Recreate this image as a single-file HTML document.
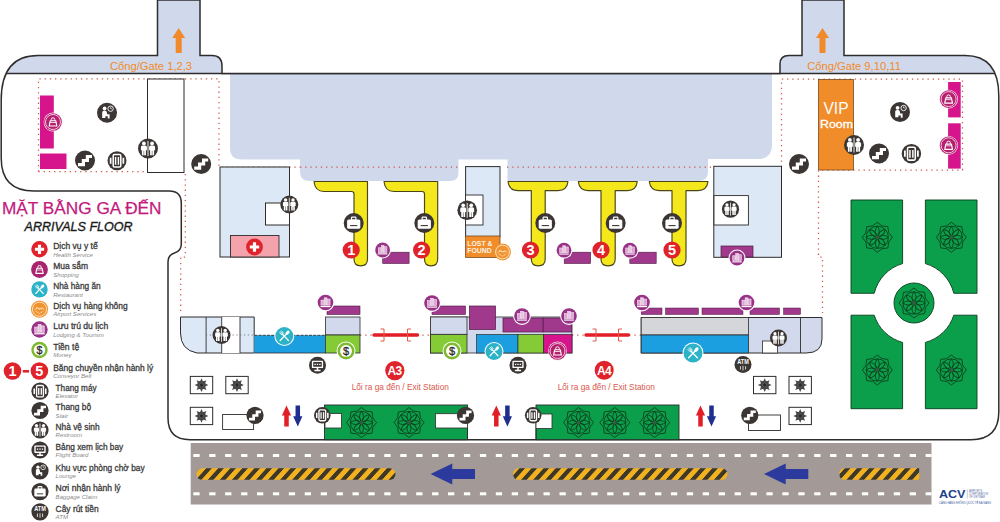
<!DOCTYPE html>
<html><head><meta charset="utf-8"><title>Arrivals Floor</title>
<style>html,body{margin:0;padding:0;background:#fff;}svg{display:block;font-family:"Liberation Sans",sans-serif;}</style>
</head><body>
<svg width="1000" height="522" viewBox="0 0 1000 522">
<rect width="1000" height="522" fill="#fff"/>
<defs><clipPath id="bclip"><path d="M1.2 100 Q1.2 55.5 38 55.5 H157.5 V0 H200 V55.5 H212 Q222 55.5 222 66 V73.5 H780 V64 Q780 55.5 789 55.5 H802 V0 H844 V55.5 H965 Q998.8 55.5 998.8 96 V412 Q998.8 439.7 971 439.7 H190 Q168 439.7 168 418 V262 Q168 255 174.5 253 Q181.3 251 181.3 244 V203 Q181.3 191 169 191 H34 Q1.2 191 1.2 158 Z"/></clipPath><clipPath id="topclip"><rect x="0" y="-2" width="1000" height="75.5"/></clipPath></defs>
<path d="M1.2 100 Q1.2 55.5 38 55.5 H157.5 V0 H200 V55.5 H212 Q222 55.5 222 66 V73.5 H780 V64 Q780 55.5 789 55.5 H802 V0 H844 V55.5 H965 Q998.8 55.5 998.8 96 V412 Q998.8 439.7 971 439.7 H190 Q168 439.7 168 418 V262 Q168 255 174.5 253 Q181.3 251 181.3 244 V203 Q181.3 191 169 191 H34 Q1.2 191 1.2 158 Z" fill="#fff"/>
<g clip-path="url(#topclip)"><path d="M1.2 100 Q1.2 55.5 38 55.5 H157.5 V0 H200 V55.5 H212 Q222 55.5 222 66 V73.5 H780 V64 Q780 55.5 789 55.5 H802 V0 H844 V55.5 H965 Q998.8 55.5 998.8 96 V412 Q998.8 439.7 971 439.7 H190 Q168 439.7 168 418 V262 Q168 255 174.5 253 Q181.3 251 181.3 244 V203 Q181.3 191 169 191 H34 Q1.2 191 1.2 158 Z" fill="#d0d9ec"/></g>
<path d="M230 74 H772 V145 Q772 159 758 159 H708 V172 Q708 181 698 181 H507.5 V159.5 H458.5 V173 Q458.5 181 450 181 H310 Q300 181 300 172 V159.5 H242 Q230 159.5 230 148 Z" fill="#d0d9ec"/>
<g clip-path="url(#bclip)"><path d="M0 73.5H1000" stroke="#2e2c2c" stroke-width="1.3"/></g>
<path d="M1.2 100 Q1.2 55.5 38 55.5 H157.5 V0 H200 V55.5 H212 Q222 55.5 222 66 V73.5 H780 V64 Q780 55.5 789 55.5 H802 V0 H844 V55.5 H965 Q998.8 55.5 998.8 96 V412 Q998.8 439.7 971 439.7 H190 Q168 439.7 168 418 V262 Q168 255 174.5 253 Q181.3 251 181.3 244 V203 Q181.3 191 169 191 H34 Q1.2 191 1.2 158 Z" fill="none" stroke="#2e2c2c" stroke-width="1.5"/>
<path d="M38.5 171.5 V78.8 H219 V167 H300" fill="none" stroke="#cf5a4c" stroke-width="1.25" stroke-dasharray="1.3 3.9"/>
<path d="M38.5 171.5 H147 M185.3 174 V257 H180.7 V314" fill="none" stroke="#cf5a4c" stroke-width="1.25" stroke-dasharray="1.3 3.9"/>
<path d="M300 167 H458 M507 167 H714" fill="none" stroke="#cf5a4c" stroke-width="1.25" stroke-dasharray="1.3 3.9"/>
<path d="M781.5 167 V79 H962.5 V170 H818.5 V257 H822.5 V313" fill="none" stroke="#cf5a4c" stroke-width="1.25" stroke-dasharray="1.3 3.9"/>
<path d="M360 335 H430 M572 335 H641" fill="none" stroke="#cf5a4c" stroke-width="1.25" stroke-dasharray="1.3 3.9"/>
<rect x="147.5" y="79" width="36.5" height="93.5" fill="#fff" stroke="#2e2c2c" stroke-width="1"/>
<rect x="40" y="95.5" width="13.8" height="53" fill="#d6158c"/>
<rect x="40" y="153.5" width="26.5" height="15.5" fill="#d6158c"/>
<rect x="948.1" y="82" width="12.6" height="35.4" fill="#d6158c"/>
<rect x="948.1" y="123.3" width="12.6" height="45.3" fill="#d6158c"/>
<rect x="818.5" y="79.5" width="35" height="90.5" fill="#f08c2a" stroke="#7a4a1a" stroke-width="0.8"/>
<text x="836" y="113.8" font-size="15.6" fill="#fff" text-anchor="middle">VIP</text>
<text x="836.5" y="128" font-size="10.4" fill="#fff" stroke="#fff" stroke-width="0.3" text-anchor="middle" textLength="33" lengthAdjust="spacingAndGlyphs">Room</text>
<rect x="220" y="167" width="69.5" height="90" fill="#dce8f6" stroke="#2e2c2c" stroke-width="1"/>
<rect x="265.5" y="203" width="24" height="22" fill="#fff" stroke="#2e2c2c" stroke-width="1"/>
<rect x="230.5" y="235.5" width="48.5" height="21.5" fill="#f4a3ad" stroke="#2e2c2c" stroke-width="0.9"/>
<rect x="465.6" y="166.6" width="34.4" height="70" fill="#dce8f6" stroke="#2e2c2c" stroke-width="1"/>
<rect x="465.6" y="195" width="17.4" height="30" fill="#fff" stroke="#2e2c2c" stroke-width="0.9"/>
<rect x="465.6" y="236" width="34.4" height="21.4" fill="#f08c2a" stroke="#7a4a1a" stroke-width="0.8"/>
<text x="467.3" y="246" font-size="7" font-weight="bold" fill="#fdf3e4" textLength="25.2" lengthAdjust="spacingAndGlyphs">LOST &amp;</text>
<text x="467.3" y="253.3" font-size="7" font-weight="bold" fill="#fdf3e4" textLength="24.5" lengthAdjust="spacingAndGlyphs">FOUND</text>
<rect x="713.8" y="166.3" width="67.7" height="91" fill="#dce8f6" stroke="#2e2c2c" stroke-width="1"/>
<rect x="714" y="195.6" width="34.4" height="29.4" fill="#fff" stroke="#2e2c2c" stroke-width="0.9"/>
<rect x="721" y="246" width="32" height="11" fill="#a0398b" stroke="#4a1a42" stroke-width="0.7"/>
<path d="M314 181.5 H367.5 V259 Q367.5 265.8 360.75 265.8 Q354 265.8 354 259 V194 Q354 191.5 351.5 191.5 H324 Q315 191.5 314 181.5 Z" fill="#f4e71b" stroke="#4a4516" stroke-width="1.15" stroke-linejoin="round"/>
<path d="M384 181.5 H437.7 V259 Q437.7 265.8 431.1 265.8 Q424.5 265.8 424.5 259 V194 Q424.5 191.5 422.0 191.5 H394 Q385 191.5 384 181.5 Z" fill="#f4e71b" stroke="#4a4516" stroke-width="1.15" stroke-linejoin="round"/>
<path d="M508 181.5 H568 Q567 190.6 558 190.6 H545.2 V259 Q545.2 265.8 538.25 265.8 Q531.3 265.8 531.3 259 V190.6 H518 Q509 190.6 508 181.5 Z" fill="#f4e71b" stroke="#4a4516" stroke-width="1.15" stroke-linejoin="round"/>
<path d="M578.3 181.5 H637.3 Q636.3 190.6 627.3 190.6 H615.2 V259 Q615.2 265.8 608.1 265.8 Q601 265.8 601 259 V190.6 H588.3 Q579.3 190.6 578.3 181.5 Z" fill="#f4e71b" stroke="#4a4516" stroke-width="1.15" stroke-linejoin="round"/>
<path d="M649.3 181.5 H708 Q707 190.6 698 190.6 H686 V259 Q686 265.8 679.0 265.8 Q672 265.8 672 259 V190.6 H659.3 Q650.3 190.6 649.3 181.5 Z" fill="#f4e71b" stroke="#4a4516" stroke-width="1.15" stroke-linejoin="round"/>
<rect x="382.7" y="252.2" width="26.4" height="11.3" fill="#a0398b" stroke="#4a1a42" stroke-width="0.6"/>
<rect x="564.2" y="252.2" width="26.4" height="11.3" fill="#a0398b" stroke="#4a1a42" stroke-width="0.6"/>
<rect x="629.8" y="252.2" width="26.4" height="11.3" fill="#a0398b" stroke="#4a1a42" stroke-width="0.6"/>
<path d="M180.5 317 H254.2 V353 H197 Q180.5 350 180.5 333 Z" fill="#dce8f6" stroke="#2e2c2c" stroke-width="1"/>
<rect x="221.7" y="317" width="18.3" height="36" fill="#fff"/>
<path d="M206.1 317V353M221.7 317V353M240 317V353" stroke="#2e2c2c" stroke-width="0.9"/>
<path d="M206 335 H254" fill="none" stroke="#777" stroke-width="0.9" stroke-dasharray="1.2 2.6"/>
<rect x="254.4" y="335.3" width="71.1" height="17.7" fill="#1c9fe0"/><path d="M254.4 353H325.5" stroke="#2e2c2c" stroke-width="0.8"/><path d="M254.4 335.3H325.5" stroke="#2e2c2c" stroke-width="0.9" stroke-dasharray="3 1.2"/>
<rect x="325.5" y="317" width="34.5" height="18" fill="#d2d9ec" stroke="#2e2c2c" stroke-width="0.8"/>
<rect x="325.5" y="335" width="34.5" height="18" fill="#84cb35" stroke="#2e2c2c" stroke-width="0.8"/>
<rect x="327" y="306" width="33" height="8.5" fill="#a0398b" stroke="#4a1a42" stroke-width="0.6"/>
<rect x="430.5" y="317" width="141.5" height="36" fill="#d2d9ec" stroke="#2e2c2c" stroke-width="0.8"/>
<rect x="430.5" y="334.3" width="36.5" height="18.7" fill="#84cb35" stroke="#2e2c2c" stroke-width="0.8"/>
<rect x="430.5" y="317" width="36.5" height="17.3" fill="#d2d9ec" stroke="#2e2c2c" stroke-width="0.8"/>
<rect x="432" y="306" width="33.5" height="8.5" fill="#a0398b" stroke="#4a1a42" stroke-width="0.6"/>
<rect x="469.5" y="306" width="26" height="23.5" fill="#a0398b" stroke="#4a1a42" stroke-width="0.7"/>
<rect x="503" y="318" width="40.2" height="14" fill="#a0398b" stroke="#4a1a42" stroke-width="0.7"/>
<rect x="543.2" y="318" width="28.5" height="14" fill="#a0398b" stroke="#4a1a42" stroke-width="0.7"/>
<rect x="476.5" y="334.5" width="41.5" height="18.5" fill="#1c9fe0" stroke="#2e2c2c" stroke-width="0.7"/>
<rect x="518" y="334.5" width="25.5" height="18.5" fill="#84cb35" stroke="#2e2c2c" stroke-width="0.7"/>
<rect x="543.5" y="334.5" width="28.5" height="18.5" fill="#d6158c" stroke="#2e2c2c" stroke-width="0.7"/>
<path d="M641.2 317.5 H822 V339 Q822 353 806 353 H641.2 Z" fill="#d2d9ec" stroke="#2e2c2c" stroke-width="1"/>
<rect x="641.2" y="317.5" width="107.3" height="17.5" fill="#d5d6da" stroke="#2e2c2c" stroke-width="0.8"/>
<rect x="641.2" y="335" width="107.3" height="18" fill="#1c9fe0" stroke="#2e2c2c" stroke-width="0.8"/>
<path d="M800.5 317.5V353" stroke="#2e2c2c" stroke-width="0.9"/>
<rect x="762.5" y="341" width="15" height="12" fill="#fff" stroke="#2e2c2c" stroke-width="0.8"/>
<rect x="641.2" y="308" width="20.799999999999955" height="6.5" fill="#a0398b" stroke="#4a1a42" stroke-width="0.5"/>
<rect x="665.5" y="308" width="33.0" height="6.5" fill="#a0398b" stroke="#4a1a42" stroke-width="0.5"/>
<rect x="702" y="308" width="41" height="6.5" fill="#a0398b" stroke="#4a1a42" stroke-width="0.5"/>
<rect x="750" y="308" width="29.5" height="6.5" fill="#a0398b" stroke="#4a1a42" stroke-width="0.5"/>
<rect x="783.5" y="308" width="17.0" height="6.5" fill="#a0398b" stroke="#4a1a42" stroke-width="0.5"/>
<path d="M374 335H417.5" stroke="#e21e26" stroke-width="3.4" stroke-linecap="round"/><path d="M380.5 329H384V341H380.5M411.0 329H407.5V341H411.0" fill="none" stroke="#e2574a" stroke-width="1"/>
<path d="M586 335H628.5" stroke="#e21e26" stroke-width="3.4" stroke-linecap="round"/><path d="M592.5 329H596V341H592.5M622.0 329H618.5V341H622.0" fill="none" stroke="#e2574a" stroke-width="1"/>
<circle cx="394.8" cy="370.6" r="9.6" fill="#e0222a"/><text x="394.5" y="374.9" font-size="12" font-weight="bold" fill="#fff" text-anchor="middle" letter-spacing="-0.7">A3</text>
<circle cx="604.2" cy="370.2" r="9.5" fill="#e0222a"/><text x="603.9" y="374.5" font-size="12" font-weight="bold" fill="#fff" text-anchor="middle" letter-spacing="-0.7">A4</text>
<text x="400.3" y="390" font-size="8.3" fill="#d9584c" text-anchor="middle">Lối ra ga đến / Exit Station</text>
<text x="606.3" y="389.7" font-size="8.3" fill="#d9584c" text-anchor="middle">Lối ra ga đến / Exit Station</text>
<rect x="190.3" y="376.4" width="22.4" height="17.3" fill="#fff" stroke="#2e2c2c" stroke-width="1"/><polygon points="201.50,378.15 202.99,381.45 206.38,380.17 205.10,383.56 208.40,385.05 205.10,386.54 206.38,389.93 202.99,388.65 201.50,391.95 200.01,388.65 196.62,389.93 197.90,386.54 194.60,385.05 197.90,383.56 196.62,380.17 200.01,381.45" fill="#4a4a4a"/><circle cx="201.5" cy="385.04999999999995" r="4" fill="#444"/><circle cx="201.5" cy="385.04999999999995" r="2.1" fill="#2a2a2a" stroke="#777" stroke-width="0.5"/>
<rect x="225.8" y="376.4" width="22.4" height="17.3" fill="#fff" stroke="#2e2c2c" stroke-width="1"/><polygon points="237.00,378.15 238.49,381.45 241.88,380.17 240.60,383.56 243.90,385.05 240.60,386.54 241.88,389.93 238.49,388.65 237.00,391.95 235.51,388.65 232.12,389.93 233.40,386.54 230.10,385.05 233.40,383.56 232.12,380.17 235.51,381.45" fill="#4a4a4a"/><circle cx="237.0" cy="385.04999999999995" r="4" fill="#444"/><circle cx="237.0" cy="385.04999999999995" r="2.1" fill="#2a2a2a" stroke="#777" stroke-width="0.5"/>
<rect x="190.3" y="407.3" width="22.4" height="17.3" fill="#fff" stroke="#2e2c2c" stroke-width="1"/><polygon points="201.50,409.05 202.99,412.35 206.38,411.07 205.10,414.46 208.40,415.95 205.10,417.44 206.38,420.83 202.99,419.55 201.50,422.85 200.01,419.55 196.62,420.83 197.90,417.44 194.60,415.95 197.90,414.46 196.62,411.07 200.01,412.35" fill="#4a4a4a"/><circle cx="201.5" cy="415.95" r="4" fill="#444"/><circle cx="201.5" cy="415.95" r="2.1" fill="#2a2a2a" stroke="#777" stroke-width="0.5"/>
<rect x="753.5" y="376.4" width="22.4" height="17.3" fill="#fff" stroke="#2e2c2c" stroke-width="1"/><polygon points="764.70,378.15 766.19,381.45 769.58,380.17 768.30,383.56 771.60,385.05 768.30,386.54 769.58,389.93 766.19,388.65 764.70,391.95 763.21,388.65 759.82,389.93 761.10,386.54 757.80,385.05 761.10,383.56 759.82,380.17 763.21,381.45" fill="#4a4a4a"/><circle cx="764.7" cy="385.04999999999995" r="4" fill="#444"/><circle cx="764.7" cy="385.04999999999995" r="2.1" fill="#2a2a2a" stroke="#777" stroke-width="0.5"/>
<rect x="789" y="376.4" width="22.4" height="17.3" fill="#fff" stroke="#2e2c2c" stroke-width="1"/><polygon points="800.20,378.15 801.69,381.45 805.08,380.17 803.80,383.56 807.10,385.05 803.80,386.54 805.08,389.93 801.69,388.65 800.20,391.95 798.71,388.65 795.32,389.93 796.60,386.54 793.30,385.05 796.60,383.56 795.32,380.17 798.71,381.45" fill="#4a4a4a"/><circle cx="800.2" cy="385.04999999999995" r="4" fill="#444"/><circle cx="800.2" cy="385.04999999999995" r="2.1" fill="#2a2a2a" stroke="#777" stroke-width="0.5"/>
<rect x="789" y="407.3" width="22.4" height="17.3" fill="#fff" stroke="#2e2c2c" stroke-width="1"/><polygon points="800.20,409.05 801.69,412.35 805.08,411.07 803.80,414.46 807.10,415.95 803.80,417.44 805.08,420.83 801.69,419.55 800.20,422.85 798.71,419.55 795.32,420.83 796.60,417.44 793.30,415.95 796.60,414.46 795.32,411.07 798.71,412.35" fill="#4a4a4a"/><circle cx="800.2" cy="415.95" r="4" fill="#444"/><circle cx="800.2" cy="415.95" r="2.1" fill="#2a2a2a" stroke="#777" stroke-width="0.5"/>
<rect x="222.6" y="414.5" width="31" height="15" fill="#fff" stroke="#2e2c2c" stroke-width="0.9"/>
<rect x="748.5" y="415" width="32" height="15.5" fill="#fff" stroke="#2e2c2c" stroke-width="0.9"/>
<rect x="324.5" y="405" width="143" height="34.7" fill="#0c9f4b" stroke="#2e2c2c" stroke-width="0.9"/>
<rect x="325" y="413.5" width="16.4" height="14.5" fill="#fff" stroke="#2e2c2c" stroke-width="0.8"/>
<rect x="435.5" y="413.7" width="32" height="14.3" fill="#fff" stroke="#2e2c2c" stroke-width="0.8"/>
<rect x="536" y="405" width="143" height="34.7" fill="#0c9f4b" stroke="#2e2c2c" stroke-width="0.9"/>
<rect x="536" y="414" width="16" height="14.5" fill="#fff" stroke="#2e2c2c" stroke-width="0.8"/>
<g fill="none" stroke="#0c4420" stroke-width="0.95" stroke-linejoin="round"><path transform="rotate(0 361.5 422.5)" d="M361.5 422.5Q357.50 416.39 361.5 411.40Q365.50 416.39 361.5 422.5"/><path transform="rotate(45 361.5 422.5)" d="M361.5 422.5Q357.50 416.39 361.5 411.40Q365.50 416.39 361.5 422.5"/><path transform="rotate(90 361.5 422.5)" d="M361.5 422.5Q357.50 416.39 361.5 411.40Q365.50 416.39 361.5 422.5"/><path transform="rotate(135 361.5 422.5)" d="M361.5 422.5Q357.50 416.39 361.5 411.40Q365.50 416.39 361.5 422.5"/><path transform="rotate(180 361.5 422.5)" d="M361.5 422.5Q357.50 416.39 361.5 411.40Q365.50 416.39 361.5 422.5"/><path transform="rotate(225 361.5 422.5)" d="M361.5 422.5Q357.50 416.39 361.5 411.40Q365.50 416.39 361.5 422.5"/><path transform="rotate(270 361.5 422.5)" d="M361.5 422.5Q357.50 416.39 361.5 411.40Q365.50 416.39 361.5 422.5"/><path transform="rotate(315 361.5 422.5)" d="M361.5 422.5Q357.50 416.39 361.5 411.40Q365.50 416.39 361.5 422.5"/><polygon points="361.50,407.50 366.21,411.14 372.11,411.89 372.86,417.79 376.50,422.50 372.86,427.21 372.11,433.11 366.21,433.86 361.50,437.50 356.79,433.86 350.89,433.11 350.14,427.21 346.50,422.50 350.14,417.79 350.89,411.89 356.79,411.14"/><circle cx="361.5" cy="422.5" r="11.10"/><circle cx="361.5" cy="422.5" r="1.95" fill="#2f5f3f" stroke="none"/></g>
<g fill="none" stroke="#0c4420" stroke-width="0.95" stroke-linejoin="round"><path transform="rotate(0 409 422.5)" d="M409 422.5Q405.00 416.39 409 411.40Q413.00 416.39 409 422.5"/><path transform="rotate(45 409 422.5)" d="M409 422.5Q405.00 416.39 409 411.40Q413.00 416.39 409 422.5"/><path transform="rotate(90 409 422.5)" d="M409 422.5Q405.00 416.39 409 411.40Q413.00 416.39 409 422.5"/><path transform="rotate(135 409 422.5)" d="M409 422.5Q405.00 416.39 409 411.40Q413.00 416.39 409 422.5"/><path transform="rotate(180 409 422.5)" d="M409 422.5Q405.00 416.39 409 411.40Q413.00 416.39 409 422.5"/><path transform="rotate(225 409 422.5)" d="M409 422.5Q405.00 416.39 409 411.40Q413.00 416.39 409 422.5"/><path transform="rotate(270 409 422.5)" d="M409 422.5Q405.00 416.39 409 411.40Q413.00 416.39 409 422.5"/><path transform="rotate(315 409 422.5)" d="M409 422.5Q405.00 416.39 409 411.40Q413.00 416.39 409 422.5"/><polygon points="409.00,407.50 413.71,411.14 419.61,411.89 420.36,417.79 424.00,422.50 420.36,427.21 419.61,433.11 413.71,433.86 409.00,437.50 404.29,433.86 398.39,433.11 397.64,427.21 394.00,422.50 397.64,417.79 398.39,411.89 404.29,411.14"/><circle cx="409" cy="422.5" r="11.10"/><circle cx="409" cy="422.5" r="1.95" fill="#2f5f3f" stroke="none"/></g>
<g fill="none" stroke="#0c4420" stroke-width="0.95" stroke-linejoin="round"><path transform="rotate(0 578.5 422.5)" d="M578.5 422.5Q574.50 416.39 578.5 411.40Q582.50 416.39 578.5 422.5"/><path transform="rotate(45 578.5 422.5)" d="M578.5 422.5Q574.50 416.39 578.5 411.40Q582.50 416.39 578.5 422.5"/><path transform="rotate(90 578.5 422.5)" d="M578.5 422.5Q574.50 416.39 578.5 411.40Q582.50 416.39 578.5 422.5"/><path transform="rotate(135 578.5 422.5)" d="M578.5 422.5Q574.50 416.39 578.5 411.40Q582.50 416.39 578.5 422.5"/><path transform="rotate(180 578.5 422.5)" d="M578.5 422.5Q574.50 416.39 578.5 411.40Q582.50 416.39 578.5 422.5"/><path transform="rotate(225 578.5 422.5)" d="M578.5 422.5Q574.50 416.39 578.5 411.40Q582.50 416.39 578.5 422.5"/><path transform="rotate(270 578.5 422.5)" d="M578.5 422.5Q574.50 416.39 578.5 411.40Q582.50 416.39 578.5 422.5"/><path transform="rotate(315 578.5 422.5)" d="M578.5 422.5Q574.50 416.39 578.5 411.40Q582.50 416.39 578.5 422.5"/><polygon points="578.50,407.50 583.21,411.14 589.11,411.89 589.86,417.79 593.50,422.50 589.86,427.21 589.11,433.11 583.21,433.86 578.50,437.50 573.79,433.86 567.89,433.11 567.14,427.21 563.50,422.50 567.14,417.79 567.89,411.89 573.79,411.14"/><circle cx="578.5" cy="422.5" r="11.10"/><circle cx="578.5" cy="422.5" r="1.95" fill="#2f5f3f" stroke="none"/></g>
<g fill="none" stroke="#0c4420" stroke-width="0.95" stroke-linejoin="round"><path transform="rotate(0 614.8 422.5)" d="M614.8 422.5Q610.80 416.39 614.8 411.40Q618.80 416.39 614.8 422.5"/><path transform="rotate(45 614.8 422.5)" d="M614.8 422.5Q610.80 416.39 614.8 411.40Q618.80 416.39 614.8 422.5"/><path transform="rotate(90 614.8 422.5)" d="M614.8 422.5Q610.80 416.39 614.8 411.40Q618.80 416.39 614.8 422.5"/><path transform="rotate(135 614.8 422.5)" d="M614.8 422.5Q610.80 416.39 614.8 411.40Q618.80 416.39 614.8 422.5"/><path transform="rotate(180 614.8 422.5)" d="M614.8 422.5Q610.80 416.39 614.8 411.40Q618.80 416.39 614.8 422.5"/><path transform="rotate(225 614.8 422.5)" d="M614.8 422.5Q610.80 416.39 614.8 411.40Q618.80 416.39 614.8 422.5"/><path transform="rotate(270 614.8 422.5)" d="M614.8 422.5Q610.80 416.39 614.8 411.40Q618.80 416.39 614.8 422.5"/><path transform="rotate(315 614.8 422.5)" d="M614.8 422.5Q610.80 416.39 614.8 411.40Q618.80 416.39 614.8 422.5"/><polygon points="614.80,407.50 619.51,411.14 625.41,411.89 626.16,417.79 629.80,422.50 626.16,427.21 625.41,433.11 619.51,433.86 614.80,437.50 610.09,433.86 604.19,433.11 603.44,427.21 599.80,422.50 603.44,417.79 604.19,411.89 610.09,411.14"/><circle cx="614.8" cy="422.5" r="11.10"/><circle cx="614.8" cy="422.5" r="1.95" fill="#2f5f3f" stroke="none"/></g>
<g fill="none" stroke="#0c4420" stroke-width="0.95" stroke-linejoin="round"><path transform="rotate(0 654.6 422.5)" d="M654.6 422.5Q650.60 416.39 654.6 411.40Q658.60 416.39 654.6 422.5"/><path transform="rotate(45 654.6 422.5)" d="M654.6 422.5Q650.60 416.39 654.6 411.40Q658.60 416.39 654.6 422.5"/><path transform="rotate(90 654.6 422.5)" d="M654.6 422.5Q650.60 416.39 654.6 411.40Q658.60 416.39 654.6 422.5"/><path transform="rotate(135 654.6 422.5)" d="M654.6 422.5Q650.60 416.39 654.6 411.40Q658.60 416.39 654.6 422.5"/><path transform="rotate(180 654.6 422.5)" d="M654.6 422.5Q650.60 416.39 654.6 411.40Q658.60 416.39 654.6 422.5"/><path transform="rotate(225 654.6 422.5)" d="M654.6 422.5Q650.60 416.39 654.6 411.40Q658.60 416.39 654.6 422.5"/><path transform="rotate(270 654.6 422.5)" d="M654.6 422.5Q650.60 416.39 654.6 411.40Q658.60 416.39 654.6 422.5"/><path transform="rotate(315 654.6 422.5)" d="M654.6 422.5Q650.60 416.39 654.6 411.40Q658.60 416.39 654.6 422.5"/><polygon points="654.60,407.50 659.31,411.14 665.21,411.89 665.96,417.79 669.60,422.50 665.96,427.21 665.21,433.11 659.31,433.86 654.60,437.50 649.89,433.86 643.99,433.11 643.24,427.21 639.60,422.50 643.24,417.79 643.99,411.89 649.89,411.14"/><circle cx="654.6" cy="422.5" r="11.10"/><circle cx="654.6" cy="422.5" r="1.95" fill="#2f5f3f" stroke="none"/></g>
<path d="M467.5 428.5 V439.7 M536 428.5 V439.7" stroke="#2e2c2c" stroke-width="0.9"/>
<path d="M286.5 405.4l4.6 10.2h-2.35v10.900000000000023h-4.5v-10.900000000000023h-2.35z" fill="#e21e26"/><path d="M297.8 426.5l4.6 -10.2h-2.35v-10.900000000000023h-4.5v10.900000000000023h-2.35z" fill="#1f2f8f"/>
<path d="M496.3 405.4l4.6 10.2h-2.35v10.900000000000023h-4.5v-10.900000000000023h-2.35z" fill="#e21e26"/><path d="M507.4 426.5l4.6 -10.2h-2.35v-10.900000000000023h-4.5v10.900000000000023h-2.35z" fill="#1f2f8f"/>
<path d="M700.5 405.4l4.6 10.2h-2.35v10.900000000000023h-4.5v-10.900000000000023h-2.35z" fill="#e21e26"/><path d="M711.5 426.5l4.6 -10.2h-2.35v-10.900000000000023h-4.5v10.900000000000023h-2.35z" fill="#1f2f8f"/>
<path d="M851 200 H902.6 V263.6 A41 41 0 0 0 874.2 293.3 H851 Z" fill="#0c9f4b" stroke="#0a3d1c" stroke-width="0.9"/><path d="M977 200 H925.4 V263.6 A41 41 0 0 1 953.8 293.3 H977 Z" fill="#0c9f4b" stroke="#0a3d1c" stroke-width="0.9"/><path d="M851 408.7 H902.6 V342.4 A41 41 0 0 1 874.2 315.2 H851 Z" fill="#0c9f4b" stroke="#0a3d1c" stroke-width="0.9"/><path d="M977 408.7 H925.4 V342.4 A41 41 0 0 0 953.8 315.2 H977 Z" fill="#0c9f4b" stroke="#0a3d1c" stroke-width="0.9"/><circle cx="914" cy="303" r="20" fill="#0c9f4b" stroke="#0a3d1c" stroke-width="0.9"/>
<g fill="none" stroke="#0c4420" stroke-width="0.95" stroke-linejoin="round"><path transform="rotate(0 877.3 237.3)" d="M877.3 237.3Q873.30 231.20 877.3 226.20Q881.30 231.20 877.3 237.3"/><path transform="rotate(45 877.3 237.3)" d="M877.3 237.3Q873.30 231.20 877.3 226.20Q881.30 231.20 877.3 237.3"/><path transform="rotate(90 877.3 237.3)" d="M877.3 237.3Q873.30 231.20 877.3 226.20Q881.30 231.20 877.3 237.3"/><path transform="rotate(135 877.3 237.3)" d="M877.3 237.3Q873.30 231.20 877.3 226.20Q881.30 231.20 877.3 237.3"/><path transform="rotate(180 877.3 237.3)" d="M877.3 237.3Q873.30 231.20 877.3 226.20Q881.30 231.20 877.3 237.3"/><path transform="rotate(225 877.3 237.3)" d="M877.3 237.3Q873.30 231.20 877.3 226.20Q881.30 231.20 877.3 237.3"/><path transform="rotate(270 877.3 237.3)" d="M877.3 237.3Q873.30 231.20 877.3 226.20Q881.30 231.20 877.3 237.3"/><path transform="rotate(315 877.3 237.3)" d="M877.3 237.3Q873.30 231.20 877.3 226.20Q881.30 231.20 877.3 237.3"/><polygon points="877.30,222.30 882.01,225.94 887.91,226.69 888.66,232.59 892.30,237.30 888.66,242.01 887.91,247.91 882.01,248.66 877.30,252.30 872.59,248.66 866.69,247.91 865.94,242.01 862.30,237.30 865.94,232.59 866.69,226.69 872.59,225.94"/><circle cx="877.3" cy="237.3" r="11.10"/><circle cx="877.3" cy="237.3" r="1.95" fill="#2f5f3f" stroke="none"/></g>
<g fill="none" stroke="#0c4420" stroke-width="0.95" stroke-linejoin="round"><path transform="rotate(0 951.3 237.3)" d="M951.3 237.3Q947.30 231.20 951.3 226.20Q955.30 231.20 951.3 237.3"/><path transform="rotate(45 951.3 237.3)" d="M951.3 237.3Q947.30 231.20 951.3 226.20Q955.30 231.20 951.3 237.3"/><path transform="rotate(90 951.3 237.3)" d="M951.3 237.3Q947.30 231.20 951.3 226.20Q955.30 231.20 951.3 237.3"/><path transform="rotate(135 951.3 237.3)" d="M951.3 237.3Q947.30 231.20 951.3 226.20Q955.30 231.20 951.3 237.3"/><path transform="rotate(180 951.3 237.3)" d="M951.3 237.3Q947.30 231.20 951.3 226.20Q955.30 231.20 951.3 237.3"/><path transform="rotate(225 951.3 237.3)" d="M951.3 237.3Q947.30 231.20 951.3 226.20Q955.30 231.20 951.3 237.3"/><path transform="rotate(270 951.3 237.3)" d="M951.3 237.3Q947.30 231.20 951.3 226.20Q955.30 231.20 951.3 237.3"/><path transform="rotate(315 951.3 237.3)" d="M951.3 237.3Q947.30 231.20 951.3 226.20Q955.30 231.20 951.3 237.3"/><polygon points="951.30,222.30 956.01,225.94 961.91,226.69 962.66,232.59 966.30,237.30 962.66,242.01 961.91,247.91 956.01,248.66 951.30,252.30 946.59,248.66 940.69,247.91 939.94,242.01 936.30,237.30 939.94,232.59 940.69,226.69 946.59,225.94"/><circle cx="951.3" cy="237.3" r="11.10"/><circle cx="951.3" cy="237.3" r="1.95" fill="#2f5f3f" stroke="none"/></g>
<g fill="none" stroke="#0c4420" stroke-width="0.95" stroke-linejoin="round"><path transform="rotate(0 877.3 370)" d="M877.3 370Q873.30 363.89 877.3 358.90Q881.30 363.89 877.3 370"/><path transform="rotate(45 877.3 370)" d="M877.3 370Q873.30 363.89 877.3 358.90Q881.30 363.89 877.3 370"/><path transform="rotate(90 877.3 370)" d="M877.3 370Q873.30 363.89 877.3 358.90Q881.30 363.89 877.3 370"/><path transform="rotate(135 877.3 370)" d="M877.3 370Q873.30 363.89 877.3 358.90Q881.30 363.89 877.3 370"/><path transform="rotate(180 877.3 370)" d="M877.3 370Q873.30 363.89 877.3 358.90Q881.30 363.89 877.3 370"/><path transform="rotate(225 877.3 370)" d="M877.3 370Q873.30 363.89 877.3 358.90Q881.30 363.89 877.3 370"/><path transform="rotate(270 877.3 370)" d="M877.3 370Q873.30 363.89 877.3 358.90Q881.30 363.89 877.3 370"/><path transform="rotate(315 877.3 370)" d="M877.3 370Q873.30 363.89 877.3 358.90Q881.30 363.89 877.3 370"/><polygon points="877.30,355.00 882.01,358.64 887.91,359.39 888.66,365.29 892.30,370.00 888.66,374.71 887.91,380.61 882.01,381.36 877.30,385.00 872.59,381.36 866.69,380.61 865.94,374.71 862.30,370.00 865.94,365.29 866.69,359.39 872.59,358.64"/><circle cx="877.3" cy="370" r="11.10"/><circle cx="877.3" cy="370" r="1.95" fill="#2f5f3f" stroke="none"/></g>
<g fill="none" stroke="#0c4420" stroke-width="0.95" stroke-linejoin="round"><path transform="rotate(0 951.3 370)" d="M951.3 370Q947.30 363.89 951.3 358.90Q955.30 363.89 951.3 370"/><path transform="rotate(45 951.3 370)" d="M951.3 370Q947.30 363.89 951.3 358.90Q955.30 363.89 951.3 370"/><path transform="rotate(90 951.3 370)" d="M951.3 370Q947.30 363.89 951.3 358.90Q955.30 363.89 951.3 370"/><path transform="rotate(135 951.3 370)" d="M951.3 370Q947.30 363.89 951.3 358.90Q955.30 363.89 951.3 370"/><path transform="rotate(180 951.3 370)" d="M951.3 370Q947.30 363.89 951.3 358.90Q955.30 363.89 951.3 370"/><path transform="rotate(225 951.3 370)" d="M951.3 370Q947.30 363.89 951.3 358.90Q955.30 363.89 951.3 370"/><path transform="rotate(270 951.3 370)" d="M951.3 370Q947.30 363.89 951.3 358.90Q955.30 363.89 951.3 370"/><path transform="rotate(315 951.3 370)" d="M951.3 370Q947.30 363.89 951.3 358.90Q955.30 363.89 951.3 370"/><polygon points="951.30,355.00 956.01,358.64 961.91,359.39 962.66,365.29 966.30,370.00 962.66,374.71 961.91,380.61 956.01,381.36 951.30,385.00 946.59,381.36 940.69,380.61 939.94,374.71 936.30,370.00 939.94,365.29 940.69,359.39 946.59,358.64"/><circle cx="951.3" cy="370" r="11.10"/><circle cx="951.3" cy="370" r="1.95" fill="#2f5f3f" stroke="none"/></g>
<g fill="none" stroke="#0c4420" stroke-width="0.95" stroke-linejoin="round"><path transform="rotate(0 914 303)" d="M914 303Q910.00 296.89 914 291.90Q918.00 296.89 914 303"/><path transform="rotate(45 914 303)" d="M914 303Q910.00 296.89 914 291.90Q918.00 296.89 914 303"/><path transform="rotate(90 914 303)" d="M914 303Q910.00 296.89 914 291.90Q918.00 296.89 914 303"/><path transform="rotate(135 914 303)" d="M914 303Q910.00 296.89 914 291.90Q918.00 296.89 914 303"/><path transform="rotate(180 914 303)" d="M914 303Q910.00 296.89 914 291.90Q918.00 296.89 914 303"/><path transform="rotate(225 914 303)" d="M914 303Q910.00 296.89 914 291.90Q918.00 296.89 914 303"/><path transform="rotate(270 914 303)" d="M914 303Q910.00 296.89 914 291.90Q918.00 296.89 914 303"/><path transform="rotate(315 914 303)" d="M914 303Q910.00 296.89 914 291.90Q918.00 296.89 914 303"/><polygon points="914.00,288.00 918.71,291.64 924.61,292.39 925.36,298.29 929.00,303.00 925.36,307.71 924.61,313.61 918.71,314.36 914.00,318.00 909.29,314.36 903.39,313.61 902.64,307.71 899.00,303.00 902.64,298.29 903.39,292.39 909.29,291.64"/><circle cx="914" cy="303" r="11.10"/><circle cx="914" cy="303" r="1.95" fill="#2f5f3f" stroke="none"/></g>
<rect x="190.7" y="443" width="740.8" height="61.5" fill="#a39a97"/>
<rect x="193.3" y="454" width="6.3" height="3" fill="#fff"/><rect x="193.3" y="492.3" width="6.3" height="3" fill="#fff"/><rect x="209.2" y="454" width="6.3" height="3" fill="#fff"/><rect x="209.2" y="492.3" width="6.3" height="3" fill="#fff"/><rect x="225.1" y="454" width="6.3" height="3" fill="#fff"/><rect x="225.1" y="492.3" width="6.3" height="3" fill="#fff"/><rect x="241.1" y="454" width="6.3" height="3" fill="#fff"/><rect x="241.1" y="492.3" width="6.3" height="3" fill="#fff"/><rect x="257.0" y="454" width="6.3" height="3" fill="#fff"/><rect x="257.0" y="492.3" width="6.3" height="3" fill="#fff"/><rect x="272.9" y="454" width="6.3" height="3" fill="#fff"/><rect x="272.9" y="492.3" width="6.3" height="3" fill="#fff"/><rect x="288.8" y="454" width="6.3" height="3" fill="#fff"/><rect x="288.8" y="492.3" width="6.3" height="3" fill="#fff"/><rect x="304.7" y="454" width="6.3" height="3" fill="#fff"/><rect x="304.7" y="492.3" width="6.3" height="3" fill="#fff"/><rect x="320.7" y="454" width="6.3" height="3" fill="#fff"/><rect x="320.7" y="492.3" width="6.3" height="3" fill="#fff"/><rect x="336.6" y="454" width="6.3" height="3" fill="#fff"/><rect x="336.6" y="492.3" width="6.3" height="3" fill="#fff"/><rect x="352.5" y="454" width="6.3" height="3" fill="#fff"/><rect x="352.5" y="492.3" width="6.3" height="3" fill="#fff"/><rect x="368.4" y="454" width="6.3" height="3" fill="#fff"/><rect x="368.4" y="492.3" width="6.3" height="3" fill="#fff"/><rect x="384.3" y="454" width="6.3" height="3" fill="#fff"/><rect x="384.3" y="492.3" width="6.3" height="3" fill="#fff"/><rect x="400.3" y="454" width="6.3" height="3" fill="#fff"/><rect x="400.3" y="492.3" width="6.3" height="3" fill="#fff"/><rect x="416.2" y="454" width="6.3" height="3" fill="#fff"/><rect x="416.2" y="492.3" width="6.3" height="3" fill="#fff"/><rect x="432.1" y="454" width="6.3" height="3" fill="#fff"/><rect x="432.1" y="492.3" width="6.3" height="3" fill="#fff"/><rect x="448.0" y="454" width="6.3" height="3" fill="#fff"/><rect x="448.0" y="492.3" width="6.3" height="3" fill="#fff"/><rect x="463.9" y="454" width="6.3" height="3" fill="#fff"/><rect x="463.9" y="492.3" width="6.3" height="3" fill="#fff"/><rect x="479.9" y="454" width="6.3" height="3" fill="#fff"/><rect x="479.9" y="492.3" width="6.3" height="3" fill="#fff"/><rect x="495.8" y="454" width="6.3" height="3" fill="#fff"/><rect x="495.8" y="492.3" width="6.3" height="3" fill="#fff"/><rect x="511.7" y="454" width="6.3" height="3" fill="#fff"/><rect x="511.7" y="492.3" width="6.3" height="3" fill="#fff"/><rect x="527.6" y="454" width="6.3" height="3" fill="#fff"/><rect x="527.6" y="492.3" width="6.3" height="3" fill="#fff"/><rect x="543.5" y="454" width="6.3" height="3" fill="#fff"/><rect x="543.5" y="492.3" width="6.3" height="3" fill="#fff"/><rect x="559.5" y="454" width="6.3" height="3" fill="#fff"/><rect x="559.5" y="492.3" width="6.3" height="3" fill="#fff"/><rect x="575.4" y="454" width="6.3" height="3" fill="#fff"/><rect x="575.4" y="492.3" width="6.3" height="3" fill="#fff"/><rect x="591.3" y="454" width="6.3" height="3" fill="#fff"/><rect x="591.3" y="492.3" width="6.3" height="3" fill="#fff"/><rect x="607.2" y="454" width="6.3" height="3" fill="#fff"/><rect x="607.2" y="492.3" width="6.3" height="3" fill="#fff"/><rect x="623.1" y="454" width="6.3" height="3" fill="#fff"/><rect x="623.1" y="492.3" width="6.3" height="3" fill="#fff"/><rect x="639.1" y="454" width="6.3" height="3" fill="#fff"/><rect x="639.1" y="492.3" width="6.3" height="3" fill="#fff"/><rect x="655.0" y="454" width="6.3" height="3" fill="#fff"/><rect x="655.0" y="492.3" width="6.3" height="3" fill="#fff"/><rect x="670.9" y="454" width="6.3" height="3" fill="#fff"/><rect x="670.9" y="492.3" width="6.3" height="3" fill="#fff"/><rect x="686.8" y="454" width="6.3" height="3" fill="#fff"/><rect x="686.8" y="492.3" width="6.3" height="3" fill="#fff"/><rect x="702.7" y="454" width="6.3" height="3" fill="#fff"/><rect x="702.7" y="492.3" width="6.3" height="3" fill="#fff"/><rect x="718.7" y="454" width="6.3" height="3" fill="#fff"/><rect x="718.7" y="492.3" width="6.3" height="3" fill="#fff"/><rect x="734.6" y="454" width="6.3" height="3" fill="#fff"/><rect x="734.6" y="492.3" width="6.3" height="3" fill="#fff"/><rect x="750.5" y="454" width="6.3" height="3" fill="#fff"/><rect x="750.5" y="492.3" width="6.3" height="3" fill="#fff"/><rect x="766.4" y="454" width="6.3" height="3" fill="#fff"/><rect x="766.4" y="492.3" width="6.3" height="3" fill="#fff"/><rect x="782.3" y="454" width="6.3" height="3" fill="#fff"/><rect x="782.3" y="492.3" width="6.3" height="3" fill="#fff"/><rect x="798.3" y="454" width="6.3" height="3" fill="#fff"/><rect x="798.3" y="492.3" width="6.3" height="3" fill="#fff"/><rect x="814.2" y="454" width="6.3" height="3" fill="#fff"/><rect x="814.2" y="492.3" width="6.3" height="3" fill="#fff"/><rect x="830.1" y="454" width="6.3" height="3" fill="#fff"/><rect x="830.1" y="492.3" width="6.3" height="3" fill="#fff"/><rect x="846.0" y="454" width="6.3" height="3" fill="#fff"/><rect x="846.0" y="492.3" width="6.3" height="3" fill="#fff"/><rect x="861.9" y="454" width="6.3" height="3" fill="#fff"/><rect x="861.9" y="492.3" width="6.3" height="3" fill="#fff"/><rect x="877.9" y="454" width="6.3" height="3" fill="#fff"/><rect x="877.9" y="492.3" width="6.3" height="3" fill="#fff"/><rect x="893.8" y="454" width="6.3" height="3" fill="#fff"/><rect x="893.8" y="492.3" width="6.3" height="3" fill="#fff"/><rect x="909.7" y="454" width="6.3" height="3" fill="#fff"/><rect x="909.7" y="492.3" width="6.3" height="3" fill="#fff"/><rect x="925.6" y="454" width="5.9" height="3" fill="#fff"/><rect x="925.6" y="492.3" width="5.9" height="3" fill="#fff"/>
<defs><pattern id="hz" x="194" y="468" width="12.05" height="12" patternUnits="userSpaceOnUse" patternTransform="skewX(-42)"><rect width="12.05" height="12" fill="#f2b11f"/><rect x="0" width="5.6" height="12" fill="#3d3829"/></pattern></defs>
<rect x="196.5" y="468.3" width="199" height="11.5" rx="5.7" fill="url(#hz)"/>
<rect x="513" y="468.3" width="214.5" height="11.5" rx="5.7" fill="url(#hz)"/>
<path d="M845 468.3 H919.2 V479.8 H845 Q839.4 479.8 839.4 474 Q839.4 468.3 845 468.3Z" fill="url(#hz)"/>
<path d="M430.6 474L452.3 463.5V469H475V479H452.3V484.5Z" fill="#2b3a9c"/>
<path d="M764 474L785.7 463.5V469H808.3V479H785.7V484.5Z" fill="#2b3a9c"/>
<path d="M178.7 28L185.2 38H181.7V53H175.7V38H172.2Z" fill="#f08a2a"/>
<path d="M822.5 28L829.0 38H825.5V53H819.5V38H816.0Z" fill="#f08a2a"/>
<text x="151" y="69.5" font-size="11.2" fill="#f08a2a" text-anchor="middle">Cổng/Gate 1,2,3</text>
<text x="854" y="69.5" font-size="11.2" fill="#f08a2a" text-anchor="middle">Cổng/Gate 9,10,11</text>
<circle cx="53" cy="122" r="9.40" fill="#fbe3ef"/><circle cx="53" cy="122" r="8.80" fill="#b41f6e"/><circle cx="53" cy="122" r="7.50" fill="none" stroke="#f7c3de" stroke-width="1"/><path d="M49.13 126.05L50.18 120.77H55.82L56.87 126.05Z" fill="#b41f6e" stroke="#fff" stroke-width="1.14" stroke-linejoin="round"/><path d="M51.24 120.59V119.54A1.76 1.76 0 0 1 54.76 119.54V120.59" fill="none" stroke="#fff" stroke-width="0.97"/><path d="M50.01 122.53H55.99" stroke="#fff" stroke-width="0.79"/>
<circle cx="107" cy="112.7" r="10" fill="#3b3634"/><circle cx="104.60" cy="108.50" r="1.90" fill="#fff"/><path d="M102.20 117.90V112.30Q102.20 110.70 104.00 110.70H105.40Q106.60 110.70 106.80 112.30L107.20 114.30H109.60V118.50H107.80V116.30H105.40V117.90Z" fill="#fff"/><circle cx="110.60" cy="108.70" r="2.70" fill="#3b3634" stroke="#fff" stroke-width="0.90"/><path d="M110.60 107.10V108.70H111.80" stroke="#fff" stroke-width="0.70" fill="none"/>
<circle cx="85" cy="160.5" r="10" fill="#3b3634"/><polygon points="78.00,166.30 78.00,163.10 81.80,163.10 81.80,159.10 85.80,159.10 85.80,154.90 92.00,154.90 92.00,157.90 89.00,157.90 89.00,162.10 85.00,162.10 85.00,166.30" fill="#fff"/>
<circle cx="117" cy="160.7" r="9.5" fill="#3b3634"/><rect x="113.20" y="154.43" width="7.60" height="12.54" rx="1.33" fill="none" stroke="#fff" stroke-width="1.52"/><path d="M115.58 157.09V164.69M118.42 157.09V164.69" stroke="#fff" stroke-width="1.42"/><path d="M110.64 157.66V163.74M123.36 157.66V163.74" stroke="#fff" stroke-width="1.71"/>
<circle cx="148" cy="148.5" r="10" fill="#3b3634"/><circle cx="143.90" cy="143.40" r="1.90" fill="#fff"/><path d="M140.90 150.30V147.10Q140.90 145.50 142.70 145.50H145.10Q146.90 145.50 146.90 147.10V150.30H145.90V155.30H144.15V150.70H143.65V155.30H141.90V150.30Z" fill="#fff"/><circle cx="152.10" cy="143.40" r="1.90" fill="#fff"/><path d="M149.10 150.30V147.10Q149.10 145.50 150.90 145.50H153.30Q155.10 145.50 155.10 147.10V150.30H154.10V155.30H152.35V150.70H151.85V155.30H150.10V150.30Z" fill="#fff"/><path d="M148 141.00V156.00" stroke="#fff" stroke-width="0.90"/>
<circle cx="201.2" cy="164" r="10" fill="#3b3634"/><polygon points="194.20,169.80 194.20,166.60 198.00,166.60 198.00,162.60 202.00,162.60 202.00,158.40 208.20,158.40 208.20,161.40 205.20,161.40 205.20,165.60 201.20,165.60 201.20,169.80" fill="#fff"/>
<circle cx="289.3" cy="204.5" r="9" fill="#3b3634"/><circle cx="285.61" cy="199.91" r="1.71" fill="#fff"/><path d="M282.91 206.12V203.24Q282.91 201.80 284.53 201.80H286.69Q288.31 201.80 288.31 203.24V206.12H287.41V210.62H285.84V206.48H285.38V210.62H283.81V206.12Z" fill="#fff"/><circle cx="292.99" cy="199.91" r="1.71" fill="#fff"/><path d="M290.29 206.12V203.24Q290.29 201.80 291.91 201.80H294.07Q295.69 201.80 295.69 203.24V206.12H294.79V210.62H293.22V206.48H292.76V210.62H291.19V206.12Z" fill="#fff"/><path d="M289.3 197.75V211.25" stroke="#fff" stroke-width="0.81"/>
<circle cx="254.5" cy="247" r="8.4" fill="#e0222a"/><circle cx="254.5" cy="247" r="7.00" fill="none" stroke="#fff" stroke-width="0.6" opacity="0.0"/><path d="M252.90 242.30h3.19v3.11h3.11v3.19h-3.11v3.11h-3.19v-3.11h-3.11v-3.19h3.11z" fill="#fff"/>
<circle cx="353.7" cy="223" r="10" fill="#3b3634"/><rect x="347.10" y="219.40" width="13.20" height="9.40" rx="1.60" fill="#fff"/><rect x="351.50" y="217.20" width="4.40" height="3.00" rx="0.80" fill="none" stroke="#fff" stroke-width="1.20"/><path d="M350.10 225.60H357.30" stroke="#3b3634" stroke-width="1.10"/>
<circle cx="424.3" cy="223" r="10" fill="#3b3634"/><rect x="417.70" y="219.40" width="13.20" height="9.40" rx="1.60" fill="#fff"/><rect x="422.10" y="217.20" width="4.40" height="3.00" rx="0.80" fill="none" stroke="#fff" stroke-width="1.20"/><path d="M420.70 225.60H427.90" stroke="#3b3634" stroke-width="1.10"/>
<circle cx="545.3" cy="223" r="10" fill="#3b3634"/><rect x="538.70" y="219.40" width="13.20" height="9.40" rx="1.60" fill="#fff"/><rect x="543.10" y="217.20" width="4.40" height="3.00" rx="0.80" fill="none" stroke="#fff" stroke-width="1.20"/><path d="M541.70 225.60H548.90" stroke="#3b3634" stroke-width="1.10"/>
<circle cx="615.7" cy="223" r="10" fill="#3b3634"/><rect x="609.10" y="219.40" width="13.20" height="9.40" rx="1.60" fill="#fff"/><rect x="613.50" y="217.20" width="4.40" height="3.00" rx="0.80" fill="none" stroke="#fff" stroke-width="1.20"/><path d="M612.10 225.60H619.30" stroke="#3b3634" stroke-width="1.10"/>
<circle cx="672" cy="223" r="10" fill="#3b3634"/><rect x="665.40" y="219.40" width="13.20" height="9.40" rx="1.60" fill="#fff"/><rect x="669.80" y="217.20" width="4.40" height="3.00" rx="0.80" fill="none" stroke="#fff" stroke-width="1.20"/><path d="M668.40 225.60H675.60" stroke="#3b3634" stroke-width="1.10"/>
<circle cx="351.2" cy="250" r="8.6" fill="#e0222a"/><text x="351.2" y="255.22" font-size="14.5" font-weight="bold" fill="#fff" text-anchor="middle">1</text>
<circle cx="421.6" cy="250" r="8.6" fill="#e0222a"/><text x="421.6" y="255.22" font-size="14.5" font-weight="bold" fill="#fff" text-anchor="middle">2</text>
<circle cx="530.5" cy="250" r="8.6" fill="#e0222a"/><text x="530.5" y="255.22" font-size="14.5" font-weight="bold" fill="#fff" text-anchor="middle">3</text>
<circle cx="601" cy="250" r="8.6" fill="#e0222a"/><text x="601" y="255.22" font-size="14.5" font-weight="bold" fill="#fff" text-anchor="middle">4</text>
<circle cx="672" cy="250" r="8.6" fill="#e0222a"/><text x="672" y="255.22" font-size="14.5" font-weight="bold" fill="#fff" text-anchor="middle">5</text>
<circle cx="382.6" cy="250" r="8.50" fill="#fff"/><circle cx="382.6" cy="250" r="7.40" fill="#973287"/><rect x="378.31" y="247.78" width="2.81" height="4.74" fill="#dba6d2" stroke="#f6e4f2" stroke-width="0.59"/><rect x="381.34" y="245.56" width="2.66" height="6.96" fill="#e9c6e2" stroke="#f6e4f2" stroke-width="0.59"/><rect x="384.23" y="246.74" width="2.66" height="5.77" fill="#dba6d2" stroke="#f6e4f2" stroke-width="0.59"/><path d="M377.86 253.85H387.34" stroke="#fff" stroke-width="1.11"/>
<circle cx="564" cy="250.2" r="8.50" fill="#fff"/><circle cx="564" cy="250.2" r="7.40" fill="#973287"/><rect x="559.71" y="247.98" width="2.81" height="4.74" fill="#dba6d2" stroke="#f6e4f2" stroke-width="0.59"/><rect x="562.74" y="245.76" width="2.66" height="6.96" fill="#e9c6e2" stroke="#f6e4f2" stroke-width="0.59"/><rect x="565.63" y="246.94" width="2.66" height="5.77" fill="#dba6d2" stroke="#f6e4f2" stroke-width="0.59"/><path d="M559.26 254.05H568.74" stroke="#fff" stroke-width="1.11"/>
<circle cx="630" cy="250.2" r="8.50" fill="#fff"/><circle cx="630" cy="250.2" r="7.40" fill="#973287"/><rect x="625.71" y="247.98" width="2.81" height="4.74" fill="#dba6d2" stroke="#f6e4f2" stroke-width="0.59"/><rect x="628.74" y="245.76" width="2.66" height="6.96" fill="#e9c6e2" stroke="#f6e4f2" stroke-width="0.59"/><rect x="631.63" y="246.94" width="2.66" height="5.77" fill="#dba6d2" stroke="#f6e4f2" stroke-width="0.59"/><path d="M625.26 254.05H634.74" stroke="#fff" stroke-width="1.11"/>
<circle cx="737" cy="258" r="8.50" fill="#fff"/><circle cx="737" cy="258" r="7.40" fill="#973287"/><rect x="732.71" y="255.78" width="2.81" height="4.74" fill="#dba6d2" stroke="#f6e4f2" stroke-width="0.59"/><rect x="735.74" y="253.56" width="2.66" height="6.96" fill="#e9c6e2" stroke="#f6e4f2" stroke-width="0.59"/><rect x="738.63" y="254.74" width="2.66" height="5.77" fill="#dba6d2" stroke="#f6e4f2" stroke-width="0.59"/><path d="M732.26 261.85H741.74" stroke="#fff" stroke-width="1.11"/>
<circle cx="467.2" cy="210.3" r="9.8" fill="#3b3634"/><circle cx="463.18" cy="205.30" r="1.86" fill="#fff"/><path d="M460.24 212.06V208.93Q460.24 207.36 462.01 207.36H464.36Q466.12 207.36 466.12 208.93V212.06H465.14V216.96H463.43V212.46H462.94V216.96H461.22V212.06Z" fill="#fff"/><circle cx="471.22" cy="205.30" r="1.86" fill="#fff"/><path d="M468.28 212.06V208.93Q468.28 207.36 470.04 207.36H472.39Q474.16 207.36 474.16 208.93V212.06H473.18V216.96H471.46V212.46H470.97V216.96H469.26V212.06Z" fill="#fff"/><path d="M467.2 202.95V217.65" stroke="#fff" stroke-width="0.88"/>
<circle cx="502.5" cy="252" r="8.4" fill="#f0932e"/><circle cx="502.5" cy="252" r="6.90" fill="none" stroke="#fde9cf" stroke-width="0.9"/><path d="M497.80 252.50L500.32 249.82L503.00 252.50L505.02 250.32L507.20 252.50M498.64 253.85L502.5 256.20L506.36 253.85M499.14 251.50H505.86" fill="none" stroke="#fde9cf" stroke-width="0.92" stroke-dasharray="1.34 0.67"/>
<circle cx="730.5" cy="209.2" r="8.6" fill="#3b3634"/><circle cx="726.97" cy="204.81" r="1.63" fill="#fff"/><path d="M724.39 210.75V208.00Q724.39 206.62 725.94 206.62H728.01Q729.55 206.62 729.55 208.00V210.75H728.69V215.05H727.19V211.09H726.76V215.05H725.25V210.75Z" fill="#fff"/><circle cx="734.03" cy="204.81" r="1.63" fill="#fff"/><path d="M731.45 210.75V208.00Q731.45 206.62 732.99 206.62H735.06Q736.61 206.62 736.61 208.00V210.75H735.75V215.05H734.24V211.09H733.81V215.05H732.31V210.75Z" fill="#fff"/><path d="M730.5 202.75V215.65" stroke="#fff" stroke-width="0.77"/>
<circle cx="799" cy="164" r="10" fill="#3b3634"/><polygon points="792.00,169.80 792.00,166.60 795.80,166.60 795.80,162.60 799.80,162.60 799.80,158.40 806.00,158.40 806.00,161.40 803.00,161.40 803.00,165.60 799.00,165.60 799.00,169.80" fill="#fff"/>
<circle cx="854" cy="145" r="10" fill="#3b3634"/><circle cx="849.90" cy="139.90" r="1.90" fill="#fff"/><path d="M846.90 146.80V143.60Q846.90 142.00 848.70 142.00H851.10Q852.90 142.00 852.90 143.60V146.80H851.90V151.80H850.15V147.20H849.65V151.80H847.90V146.80Z" fill="#fff"/><circle cx="858.10" cy="139.90" r="1.90" fill="#fff"/><path d="M855.10 146.80V143.60Q855.10 142.00 856.90 142.00H859.30Q861.10 142.00 861.10 143.60V146.80H860.10V151.80H858.35V147.20H857.85V151.80H856.10V146.80Z" fill="#fff"/><path d="M854 137.50V152.50" stroke="#fff" stroke-width="0.90"/>
<circle cx="879" cy="153.5" r="10" fill="#3b3634"/><polygon points="872.00,159.30 872.00,156.10 875.80,156.10 875.80,152.10 879.80,152.10 879.80,147.90 886.00,147.90 886.00,150.90 883.00,150.90 883.00,155.10 879.00,155.10 879.00,159.30" fill="#fff"/>
<circle cx="911.4" cy="153.7" r="9.7" fill="#3b3634"/><rect x="907.52" y="147.30" width="7.76" height="12.80" rx="1.36" fill="none" stroke="#fff" stroke-width="1.55"/><path d="M909.94 150.01V157.77M912.86 150.01V157.77" stroke="#fff" stroke-width="1.46"/><path d="M904.90 150.60V156.80M917.90 150.60V156.80" stroke="#fff" stroke-width="1.75"/>
<circle cx="900" cy="112" r="10" fill="#3b3634"/><circle cx="897.60" cy="107.80" r="1.90" fill="#fff"/><path d="M895.20 117.20V111.60Q895.20 110.00 897.00 110.00H898.40Q899.60 110.00 899.80 111.60L900.20 113.60H902.60V117.80H900.80V115.60H898.40V117.20Z" fill="#fff"/><circle cx="903.60" cy="108.00" r="2.70" fill="#3b3634" stroke="#fff" stroke-width="0.90"/><path d="M903.60 106.40V108.00H904.80" stroke="#fff" stroke-width="0.70" fill="none"/>
<circle cx="948.6" cy="99.1" r="9.40" fill="#fbe3ef"/><circle cx="948.6" cy="99.1" r="8.80" fill="#b41f6e"/><circle cx="948.6" cy="99.1" r="7.50" fill="none" stroke="#f7c3de" stroke-width="1"/><path d="M944.73 103.15L945.78 97.87H951.42L952.47 103.15Z" fill="#b41f6e" stroke="#fff" stroke-width="1.14" stroke-linejoin="round"/><path d="M946.84 97.69V96.64A1.76 1.76 0 0 1 950.36 96.64V97.69" fill="none" stroke="#fff" stroke-width="0.97"/><path d="M945.61 99.63H951.59" stroke="#fff" stroke-width="0.79"/>
<circle cx="948.6" cy="145.3" r="9.40" fill="#fbe3ef"/><circle cx="948.6" cy="145.3" r="8.80" fill="#b41f6e"/><circle cx="948.6" cy="145.3" r="7.50" fill="none" stroke="#f7c3de" stroke-width="1"/><path d="M944.73 149.35L945.78 144.07H951.42L952.47 149.35Z" fill="#b41f6e" stroke="#fff" stroke-width="1.14" stroke-linejoin="round"/><path d="M946.84 143.89V142.84A1.76 1.76 0 0 1 950.36 142.84V143.89" fill="none" stroke="#fff" stroke-width="0.97"/><path d="M945.61 145.83H951.59" stroke="#fff" stroke-width="0.79"/>
<circle cx="221.5" cy="335" r="9" fill="#3b3634"/><circle cx="217.81" cy="330.41" r="1.71" fill="#fff"/><path d="M215.11 336.62V333.74Q215.11 332.30 216.73 332.30H218.89Q220.51 332.30 220.51 333.74V336.62H219.61V341.12H218.03V336.98H217.59V341.12H216.01V336.62Z" fill="#fff"/><circle cx="225.19" cy="330.41" r="1.71" fill="#fff"/><path d="M222.49 336.62V333.74Q222.49 332.30 224.11 332.30H226.27Q227.89 332.30 227.89 333.74V336.62H226.99V341.12H225.41V336.98H224.97V341.12H223.39V336.62Z" fill="#fff"/><path d="M221.5 328.25V341.75" stroke="#fff" stroke-width="0.81"/>
<circle cx="284.3" cy="336" r="10.00" fill="#fff"/><circle cx="284.3" cy="336" r="9.00" fill="#2cb3c8"/><path d="M280.16 340.50L286.46 333.84" stroke="#fff" stroke-width="1.26" stroke-linecap="round"/><ellipse cx="287.54" cy="332.76" rx="1.53" ry="2.52" transform="rotate(43 287.54 332.76)" fill="#fff"/><path d="M288.44 340.50L282.14 333.84" stroke="#fff" stroke-width="1.26" stroke-linecap="round"/><path d="M279.62 332.76L281.96 335.10M280.52 331.68L282.68 334.02M281.60 330.96L283.58 333.12" stroke="#fff" stroke-width="0.90" stroke-linecap="round"/>
<circle cx="325.5" cy="302.5" r="8.90" fill="#fff"/><circle cx="325.5" cy="302.5" r="7.80" fill="#973287"/><rect x="320.98" y="300.16" width="2.96" height="4.99" fill="#dba6d2" stroke="#f6e4f2" stroke-width="0.62"/><rect x="324.17" y="297.82" width="2.81" height="7.33" fill="#e9c6e2" stroke="#f6e4f2" stroke-width="0.62"/><rect x="327.22" y="299.07" width="2.81" height="6.08" fill="#dba6d2" stroke="#f6e4f2" stroke-width="0.62"/><path d="M320.51 306.56H330.49" stroke="#fff" stroke-width="1.17"/>
<circle cx="346" cy="351" r="9.50" fill="#fff"/><circle cx="346" cy="351" r="8.50" fill="#7dba2f"/><circle cx="346" cy="351" r="5.95" fill="#fff"/><text x="346" y="354.91" font-size="11.05" fill="#2b2b2b" stroke="#2b2b2b" stroke-width="0.3" text-anchor="middle">$</text>
<circle cx="317.5" cy="365.2" r="8.5" fill="#3b3634"/><rect x="311.89" y="360.78" width="11.22" height="7.31" rx="0.85" fill="#fff"/><rect x="313.25" y="361.97" width="8.50" height="4.76" fill="#3b3634"/><path d="M314.44 364.35H320.56" stroke="#fff" stroke-width="1.36" stroke-dasharray="1.36 1.02"/><path d="M317.5 367.75V370.30M314.44 370.47H320.56" stroke="#fff" stroke-width="1.53"/>
<circle cx="432" cy="303" r="8.90" fill="#fff"/><circle cx="432" cy="303" r="7.80" fill="#973287"/><rect x="427.48" y="300.66" width="2.96" height="4.99" fill="#dba6d2" stroke="#f6e4f2" stroke-width="0.62"/><rect x="430.67" y="298.32" width="2.81" height="7.33" fill="#e9c6e2" stroke="#f6e4f2" stroke-width="0.62"/><rect x="433.72" y="299.57" width="2.81" height="6.08" fill="#dba6d2" stroke="#f6e4f2" stroke-width="0.62"/><path d="M427.01 307.06H436.99" stroke="#fff" stroke-width="1.17"/>
<circle cx="522" cy="316" r="8.90" fill="#fff"/><circle cx="522" cy="316" r="7.80" fill="#973287"/><rect x="517.48" y="313.66" width="2.96" height="4.99" fill="#dba6d2" stroke="#f6e4f2" stroke-width="0.62"/><rect x="520.67" y="311.32" width="2.81" height="7.33" fill="#e9c6e2" stroke="#f6e4f2" stroke-width="0.62"/><rect x="523.72" y="312.57" width="2.81" height="6.08" fill="#dba6d2" stroke="#f6e4f2" stroke-width="0.62"/><path d="M517.01 320.06H526.99" stroke="#fff" stroke-width="1.17"/>
<circle cx="569" cy="316" r="8.90" fill="#fff"/><circle cx="569" cy="316" r="7.80" fill="#973287"/><rect x="564.48" y="313.66" width="2.96" height="4.99" fill="#dba6d2" stroke="#f6e4f2" stroke-width="0.62"/><rect x="567.67" y="311.32" width="2.81" height="7.33" fill="#e9c6e2" stroke="#f6e4f2" stroke-width="0.62"/><rect x="570.72" y="312.57" width="2.81" height="6.08" fill="#dba6d2" stroke="#f6e4f2" stroke-width="0.62"/><path d="M564.01 320.06H573.99" stroke="#fff" stroke-width="1.17"/>
<circle cx="452" cy="351" r="9.50" fill="#fff"/><circle cx="452" cy="351" r="8.50" fill="#7dba2f"/><circle cx="452" cy="351" r="5.95" fill="#fff"/><text x="452" y="354.91" font-size="11.05" fill="#2b2b2b" stroke="#2b2b2b" stroke-width="0.3" text-anchor="middle">$</text>
<circle cx="494" cy="351.5" r="9.50" fill="#fff"/><circle cx="494" cy="351.5" r="8.50" fill="#2cb3c8"/><path d="M490.09 355.75L496.04 349.46" stroke="#fff" stroke-width="1.19" stroke-linecap="round"/><ellipse cx="497.06" cy="348.44" rx="1.44" ry="2.38" transform="rotate(43 497.06 348.44)" fill="#fff"/><path d="M497.91 355.75L491.96 349.46" stroke="#fff" stroke-width="1.19" stroke-linecap="round"/><path d="M489.58 348.44L491.79 350.65M490.43 347.42L492.47 349.63M491.45 346.74L493.32 348.78" stroke="#fff" stroke-width="0.85" stroke-linecap="round"/>
<circle cx="518" cy="365.2" r="8.5" fill="#3b3634"/><rect x="512.39" y="360.78" width="11.22" height="7.31" rx="0.85" fill="#fff"/><rect x="513.75" y="361.97" width="8.50" height="4.76" fill="#3b3634"/><path d="M514.94 364.35H521.06" stroke="#fff" stroke-width="1.36" stroke-dasharray="1.36 1.02"/><path d="M518 367.75V370.30M514.94 370.47H521.06" stroke="#fff" stroke-width="1.53"/>
<circle cx="557.5" cy="351" r="9.40" fill="#fbe3ef"/><circle cx="557.5" cy="351" r="8.80" fill="#b41f6e"/><circle cx="557.5" cy="351" r="7.50" fill="none" stroke="#f7c3de" stroke-width="1"/><path d="M553.63 355.05L554.68 349.77H560.32L561.37 355.05Z" fill="#b41f6e" stroke="#fff" stroke-width="1.14" stroke-linejoin="round"/><path d="M555.74 349.59V348.54A1.76 1.76 0 0 1 559.26 348.54V349.59" fill="none" stroke="#fff" stroke-width="0.97"/><path d="M554.51 351.53H560.49" stroke="#fff" stroke-width="0.79"/>
<circle cx="642" cy="302.5" r="8.90" fill="#fff"/><circle cx="642" cy="302.5" r="7.80" fill="#973287"/><rect x="637.48" y="300.16" width="2.96" height="4.99" fill="#dba6d2" stroke="#f6e4f2" stroke-width="0.62"/><rect x="640.67" y="297.82" width="2.81" height="7.33" fill="#e9c6e2" stroke="#f6e4f2" stroke-width="0.62"/><rect x="643.72" y="299.07" width="2.81" height="6.08" fill="#dba6d2" stroke="#f6e4f2" stroke-width="0.62"/><path d="M637.01 306.56H646.99" stroke="#fff" stroke-width="1.17"/>
<circle cx="746.5" cy="302.5" r="8.90" fill="#fff"/><circle cx="746.5" cy="302.5" r="7.80" fill="#973287"/><rect x="741.98" y="300.16" width="2.96" height="4.99" fill="#dba6d2" stroke="#f6e4f2" stroke-width="0.62"/><rect x="745.17" y="297.82" width="2.81" height="7.33" fill="#e9c6e2" stroke="#f6e4f2" stroke-width="0.62"/><rect x="748.22" y="299.07" width="2.81" height="6.08" fill="#dba6d2" stroke="#f6e4f2" stroke-width="0.62"/><path d="M741.51 306.56H751.49" stroke="#fff" stroke-width="1.17"/>
<circle cx="693" cy="353" r="10.50" fill="#fff"/><circle cx="693" cy="353" r="9.50" fill="#2cb3c8"/><path d="M688.63 357.75L695.28 350.72" stroke="#fff" stroke-width="1.33" stroke-linecap="round"/><ellipse cx="696.42" cy="349.58" rx="1.61" ry="2.66" transform="rotate(43 696.42 349.58)" fill="#fff"/><path d="M697.37 357.75L690.72 350.72" stroke="#fff" stroke-width="1.33" stroke-linecap="round"/><path d="M688.06 349.58L690.53 352.05M689.01 348.44L691.29 350.91M690.15 347.68L692.24 349.96" stroke="#fff" stroke-width="0.95" stroke-linecap="round"/>
<circle cx="778.5" cy="338" r="8.5" fill="#3b3634"/><circle cx="775.01" cy="333.67" r="1.61" fill="#fff"/><path d="M772.47 339.53V336.81Q772.47 335.45 774.00 335.45H776.03Q777.56 335.45 777.56 336.81V339.53H776.72V343.78H775.23V339.87H774.80V343.78H773.31V339.53Z" fill="#fff"/><circle cx="781.99" cy="333.67" r="1.61" fill="#fff"/><path d="M779.44 339.53V336.81Q779.44 335.45 780.97 335.45H783.00Q784.53 335.45 784.53 336.81V339.53H783.69V343.78H782.20V339.87H781.77V343.78H780.28V339.53Z" fill="#fff"/><path d="M778.5 331.62V344.38" stroke="#fff" stroke-width="0.77"/>
<circle cx="743" cy="364.5" r="8.5" fill="#3b3634"/><text x="743" y="364.16" font-size="6.29" font-weight="bold" fill="#fff" text-anchor="middle" textLength="11.47" lengthAdjust="spacingAndGlyphs">ATM</text><path d="M740.45 366.20V369.60M743 365.86V370.45M745.55 366.20V369.60" stroke="#cfcfcf" stroke-width="1.02"/>
<circle cx="255" cy="415.4" r="8.6" fill="#3b3634"/><polygon points="248.98,420.39 248.98,417.64 252.25,417.64 252.25,414.20 255.69,414.20 255.69,410.58 261.02,410.58 261.02,413.16 258.44,413.16 258.44,416.78 255.00,416.78 255.00,420.39" fill="#fff"/>
<circle cx="465.5" cy="415.4" r="8.6" fill="#3b3634"/><polygon points="459.48,420.39 459.48,417.64 462.75,417.64 462.75,414.20 466.19,414.20 466.19,410.58 471.52,410.58 471.52,413.16 468.94,413.16 468.94,416.78 465.50,416.78 465.50,420.39" fill="#fff"/>
<circle cx="749.8" cy="415.3" r="8.6" fill="#3b3634"/><polygon points="743.78,420.29 743.78,417.54 747.05,417.54 747.05,414.10 750.49,414.10 750.49,410.48 755.82,410.48 755.82,413.06 753.24,413.06 753.24,416.68 749.80,416.68 749.80,420.29" fill="#fff"/>
<circle cx="322.3" cy="415.3" r="8.3" fill="#3b3634"/><rect x="318.98" y="409.82" width="6.64" height="10.96" rx="1.16" fill="none" stroke="#fff" stroke-width="1.33"/><path d="M321.06 412.15V418.79M323.55 412.15V418.79" stroke="#fff" stroke-width="1.25"/><path d="M316.74 412.64V417.96M327.86 412.64V417.96" stroke="#fff" stroke-width="1.49"/>
<circle cx="533.2" cy="415.3" r="8.3" fill="#3b3634"/><rect x="529.88" y="409.82" width="6.64" height="10.96" rx="1.16" fill="none" stroke="#fff" stroke-width="1.33"/><path d="M531.96 412.15V418.79M534.45 412.15V418.79" stroke="#fff" stroke-width="1.25"/><path d="M527.64 412.64V417.96M538.76 412.64V417.96" stroke="#fff" stroke-width="1.49"/>
<text x="2" y="213.9" font-size="17" fill="#c3197d" stroke="#c3197d" stroke-width="0.25" textLength="159.5" lengthAdjust="spacingAndGlyphs">MẶT BẰNG GA ĐẾN</text>
<text x="24.5" y="231.2" font-size="12.6" font-style="italic" fill="#1a1a1a" stroke="#1a1a1a" stroke-width="0.35" textLength="108.2" lengthAdjust="spacingAndGlyphs">ARRIVALS FLOOR</text>
<circle cx="39.5" cy="249.3" r="8.2" fill="#e0222a"/><circle cx="39.5" cy="249.3" r="6.80" fill="none" stroke="#fff" stroke-width="0.6" opacity="0.0"/><path d="M37.94 244.71h3.12v3.03h3.03v3.12h-3.03v3.03h-3.12v-3.03h-3.03v-3.12h3.03z" fill="#fff"/>
<text x="53.2" y="249.0" font-size="9" fill="#3a3a3a" stroke="#3a3a3a" stroke-width="0.3" textLength="44.5" lengthAdjust="spacingAndGlyphs">Dịch vụ y tế</text>
<text x="53.2" y="256.5" font-size="6.1" font-style="italic" fill="#8a8a8a">Health Service</text>
<circle cx="39.5" cy="269.5" r="8.40" fill="#a8246f"/><path d="M35.80 273.36L36.81 268.32H42.19L43.20 273.36Z" fill="#a8246f" stroke="#fff" stroke-width="1.09" stroke-linejoin="round"/><path d="M37.82 268.16V267.15A1.68 1.68 0 0 1 41.18 267.15V268.16" fill="none" stroke="#fff" stroke-width="0.92"/><path d="M36.64 270.00H42.36" stroke="#fff" stroke-width="0.76"/>
<text x="53.2" y="269.2" font-size="9" fill="#3a3a3a" stroke="#3a3a3a" stroke-width="0.3" textLength="35" lengthAdjust="spacingAndGlyphs">Mua sắm</text>
<text x="53.2" y="276.7" font-size="6.1" font-style="italic" fill="#8a8a8a">Shopping</text>
<circle cx="39.5" cy="289.4" r="8.20" fill="#2cb3c8"/><path d="M35.73 293.50L41.47 287.43" stroke="#fff" stroke-width="1.15" stroke-linecap="round"/><ellipse cx="42.45" cy="286.45" rx="1.39" ry="2.30" transform="rotate(43 42.45 286.45)" fill="#fff"/><path d="M43.27 293.50L37.53 287.43" stroke="#fff" stroke-width="1.15" stroke-linecap="round"/><path d="M35.24 286.45L37.37 288.58M36.06 285.46L38.02 287.60M37.04 284.81L38.84 286.78" stroke="#fff" stroke-width="0.82" stroke-linecap="round"/>
<text x="53.2" y="289.1" font-size="9" fill="#3a3a3a" stroke="#3a3a3a" stroke-width="0.3" textLength="47.5" lengthAdjust="spacingAndGlyphs">Nhà hàng ăn</text>
<text x="53.2" y="296.6" font-size="6.1" font-style="italic" fill="#8a8a8a">Restaurant</text>
<circle cx="39.5" cy="309.2" r="8.6" fill="#f0932e"/><circle cx="39.5" cy="309.2" r="7.10" fill="none" stroke="#fde9cf" stroke-width="0.9"/><path d="M34.68 309.72L37.26 306.96L40.02 309.72L42.08 307.48L44.32 309.72M35.54 311.09L39.5 313.50L43.46 311.09M36.06 308.68H42.94" fill="none" stroke="#fde9cf" stroke-width="0.95" stroke-dasharray="1.38 0.69"/>
<text x="53.2" y="308.9" font-size="9" fill="#3a3a3a" stroke="#3a3a3a" stroke-width="0.3" textLength="74.5" lengthAdjust="spacingAndGlyphs">Dịch vụ hàng không</text>
<text x="53.2" y="316.4" font-size="6.1" font-style="italic" fill="#8a8a8a">Airport Services</text>
<circle cx="39.5" cy="329.5" r="8.20" fill="#973287"/><rect x="34.74" y="327.04" width="3.12" height="5.25" fill="#dba6d2" stroke="#f6e4f2" stroke-width="0.66"/><rect x="38.11" y="324.58" width="2.95" height="7.71" fill="#e9c6e2" stroke="#f6e4f2" stroke-width="0.66"/><rect x="41.30" y="325.89" width="2.95" height="6.40" fill="#dba6d2" stroke="#f6e4f2" stroke-width="0.66"/><path d="M34.25 333.76H44.75" stroke="#fff" stroke-width="1.23"/>
<text x="53.2" y="329.2" font-size="9" fill="#3a3a3a" stroke="#3a3a3a" stroke-width="0.3" textLength="55" lengthAdjust="spacingAndGlyphs">Lưu trú du lịch</text>
<text x="53.2" y="336.7" font-size="6.1" font-style="italic" fill="#8a8a8a">Lodging &amp; Tourism</text>
<circle cx="39.5" cy="350" r="8.20" fill="#7dba2f"/><circle cx="39.5" cy="350" r="5.74" fill="#fff"/><text x="39.5" y="353.77" font-size="10.66" fill="#2b2b2b" stroke="#2b2b2b" stroke-width="0.3" text-anchor="middle">$</text>
<text x="53.2" y="349.7" font-size="9" fill="#3a3a3a" stroke="#3a3a3a" stroke-width="0.3" textLength="26" lengthAdjust="spacingAndGlyphs">Tiền tệ</text>
<text x="53.2" y="357.2" font-size="6.1" font-style="italic" fill="#8a8a8a">Money</text>
<circle cx="12.5" cy="371" r="8.8" fill="#e0222a"/><text x="12.5" y="376.22" font-size="14.5" font-weight="bold" fill="#fff" text-anchor="middle">1</text>
<circle cx="39.4" cy="371" r="8.8" fill="#e0222a"/><text x="39.4" y="376.22" font-size="14.5" font-weight="bold" fill="#fff" text-anchor="middle">5</text>
<path d="M22.8 371.3H29" stroke="#e0222a" stroke-width="2.6"/>
<text x="53.2" y="370.7" font-size="9" fill="#3a3a3a" stroke="#3a3a3a" stroke-width="0.3" textLength="100" lengthAdjust="spacingAndGlyphs">Băng chuyền nhận hành lý</text>
<text x="53.2" y="378.2" font-size="6.1" font-style="italic" fill="#8a8a8a">Conveyor Belt</text>
<circle cx="40" cy="391.2" r="8.6" fill="#3b3634"/><rect x="36.56" y="385.52" width="6.88" height="11.35" rx="1.20" fill="none" stroke="#fff" stroke-width="1.38"/><path d="M38.71 387.93V394.81M41.29 387.93V394.81" stroke="#fff" stroke-width="1.29"/><path d="M34.24 388.45V393.95M45.76 388.45V393.95" stroke="#fff" stroke-width="1.55"/>
<text x="55.6" y="390.9" font-size="9" fill="#3a3a3a" stroke="#3a3a3a" stroke-width="0.3" textLength="41" lengthAdjust="spacingAndGlyphs">Thang máy</text>
<text x="55.6" y="398.4" font-size="6.1" font-style="italic" fill="#8a8a8a">Elevator</text>
<circle cx="40" cy="410.5" r="8.6" fill="#3b3634"/><polygon points="33.98,415.49 33.98,412.74 37.25,412.74 37.25,409.30 40.69,409.30 40.69,405.68 46.02,405.68 46.02,408.26 43.44,408.26 43.44,411.88 40.00,411.88 40.00,415.49" fill="#fff"/>
<text x="55.6" y="410.2" font-size="9" fill="#3a3a3a" stroke="#3a3a3a" stroke-width="0.3" textLength="35.5" lengthAdjust="spacingAndGlyphs">Thang bộ</text>
<text x="55.6" y="417.7" font-size="6.1" font-style="italic" fill="#8a8a8a">Stair</text>
<circle cx="40" cy="430" r="8.6" fill="#3b3634"/><circle cx="36.47" cy="425.61" r="1.63" fill="#fff"/><path d="M33.89 431.55V428.80Q33.89 427.42 35.44 427.42H37.51Q39.05 427.42 39.05 428.80V431.55H38.19V435.85H36.69V431.89H36.26V435.85H34.75V431.55Z" fill="#fff"/><circle cx="43.53" cy="425.61" r="1.63" fill="#fff"/><path d="M40.95 431.55V428.80Q40.95 427.42 42.49 427.42H44.56Q46.11 427.42 46.11 428.80V431.55H45.25V435.85H43.74V431.89H43.31V435.85H41.81V431.55Z" fill="#fff"/><path d="M40 423.55V436.45" stroke="#fff" stroke-width="0.77"/>
<text x="55.6" y="429.7" font-size="9" fill="#3a3a3a" stroke="#3a3a3a" stroke-width="0.3" textLength="44" lengthAdjust="spacingAndGlyphs">Nhà vệ sinh</text>
<text x="55.6" y="437.2" font-size="6.1" font-style="italic" fill="#8a8a8a">Restroom</text>
<circle cx="40" cy="450" r="8.6" fill="#3b3634"/><rect x="34.32" y="445.53" width="11.35" height="7.40" rx="0.86" fill="#fff"/><rect x="35.70" y="446.73" width="8.60" height="4.82" fill="#3b3634"/><path d="M36.90 449.14H43.10" stroke="#fff" stroke-width="1.38" stroke-dasharray="1.38 1.03"/><path d="M40 452.58V455.16M36.90 455.33H43.10" stroke="#fff" stroke-width="1.55"/>
<text x="55.6" y="449.7" font-size="9" fill="#3a3a3a" stroke="#3a3a3a" stroke-width="0.3" textLength="67.6" lengthAdjust="spacingAndGlyphs">Bảng xem lịch bay</text>
<text x="55.6" y="457.2" font-size="6.1" font-style="italic" fill="#8a8a8a">Flight Board</text>
<circle cx="40" cy="470.8" r="8.6" fill="#3b3634"/><circle cx="37.94" cy="467.19" r="1.63" fill="#fff"/><path d="M35.87 475.27V470.46Q35.87 469.08 37.42 469.08H38.62Q39.66 469.08 39.83 470.46L40.17 472.18H42.24V475.79H40.69V473.90H38.62V475.27Z" fill="#fff"/><circle cx="43.10" cy="467.36" r="2.32" fill="#3b3634" stroke="#fff" stroke-width="0.77"/><path d="M43.10 465.98V467.36H44.13" stroke="#fff" stroke-width="0.60" fill="none"/>
<text x="55.6" y="470.5" font-size="9" fill="#3a3a3a" stroke="#3a3a3a" stroke-width="0.3" textLength="89" lengthAdjust="spacingAndGlyphs">Khu vực phòng chờ bay</text>
<text x="55.6" y="478.0" font-size="6.1" font-style="italic" fill="#8a8a8a">Lounge</text>
<circle cx="40" cy="491.6" r="8.6" fill="#3b3634"/><rect x="34.32" y="488.50" width="11.35" height="8.08" rx="1.38" fill="#fff"/><rect x="38.11" y="486.61" width="3.78" height="2.58" rx="0.69" fill="none" stroke="#fff" stroke-width="1.03"/><path d="M36.90 493.84H43.10" stroke="#3b3634" stroke-width="0.95"/>
<text x="55.6" y="491.3" font-size="9" fill="#3a3a3a" stroke="#3a3a3a" stroke-width="0.3" textLength="65" lengthAdjust="spacingAndGlyphs">Nơi nhận hành lý</text>
<text x="55.6" y="498.8" font-size="6.1" font-style="italic" fill="#8a8a8a">Baggage Claim</text>
<circle cx="40" cy="511.8" r="8.6" fill="#3b3634"/><text x="40" y="511.46" font-size="6.36" font-weight="bold" fill="#fff" text-anchor="middle" textLength="11.61" lengthAdjust="spacingAndGlyphs">ATM</text><path d="M37.42 513.52V516.96M40 513.18V517.82M42.58 513.52V516.96" stroke="#cfcfcf" stroke-width="1.03"/>
<text x="55.6" y="511.5" font-size="9" fill="#3a3a3a" stroke="#3a3a3a" stroke-width="0.3" textLength="43" lengthAdjust="spacingAndGlyphs">Cây rút tiền</text>
<text x="55.6" y="519.0" font-size="6.1" font-style="italic" fill="#8a8a8a">ATM</text>
<text x="939" y="498.3" font-size="11.2" font-weight="bold" fill="#1c428c" textLength="26.5" lengthAdjust="spacingAndGlyphs">ACV</text>
<path d="M967.3 489.5V498.5" stroke="#8a9bbf" stroke-width="0.5"/>
<text x="969" y="492" font-size="2.6" fill="#5a6f9f">AIRPORTS</text><text x="969" y="495" font-size="2.6" fill="#5a6f9f">CORPORATION</text><text x="969" y="498" font-size="2.6" fill="#5a6f9f">OF VIETNAM</text>
<text x="939" y="503.5" font-size="2.9" fill="#3a5a9f" textLength="52" lengthAdjust="spacingAndGlyphs">CẢNG HÀNG KHÔNG QUỐC TẾ ĐÀ NẴNG</text>
</svg>
</body></html>
